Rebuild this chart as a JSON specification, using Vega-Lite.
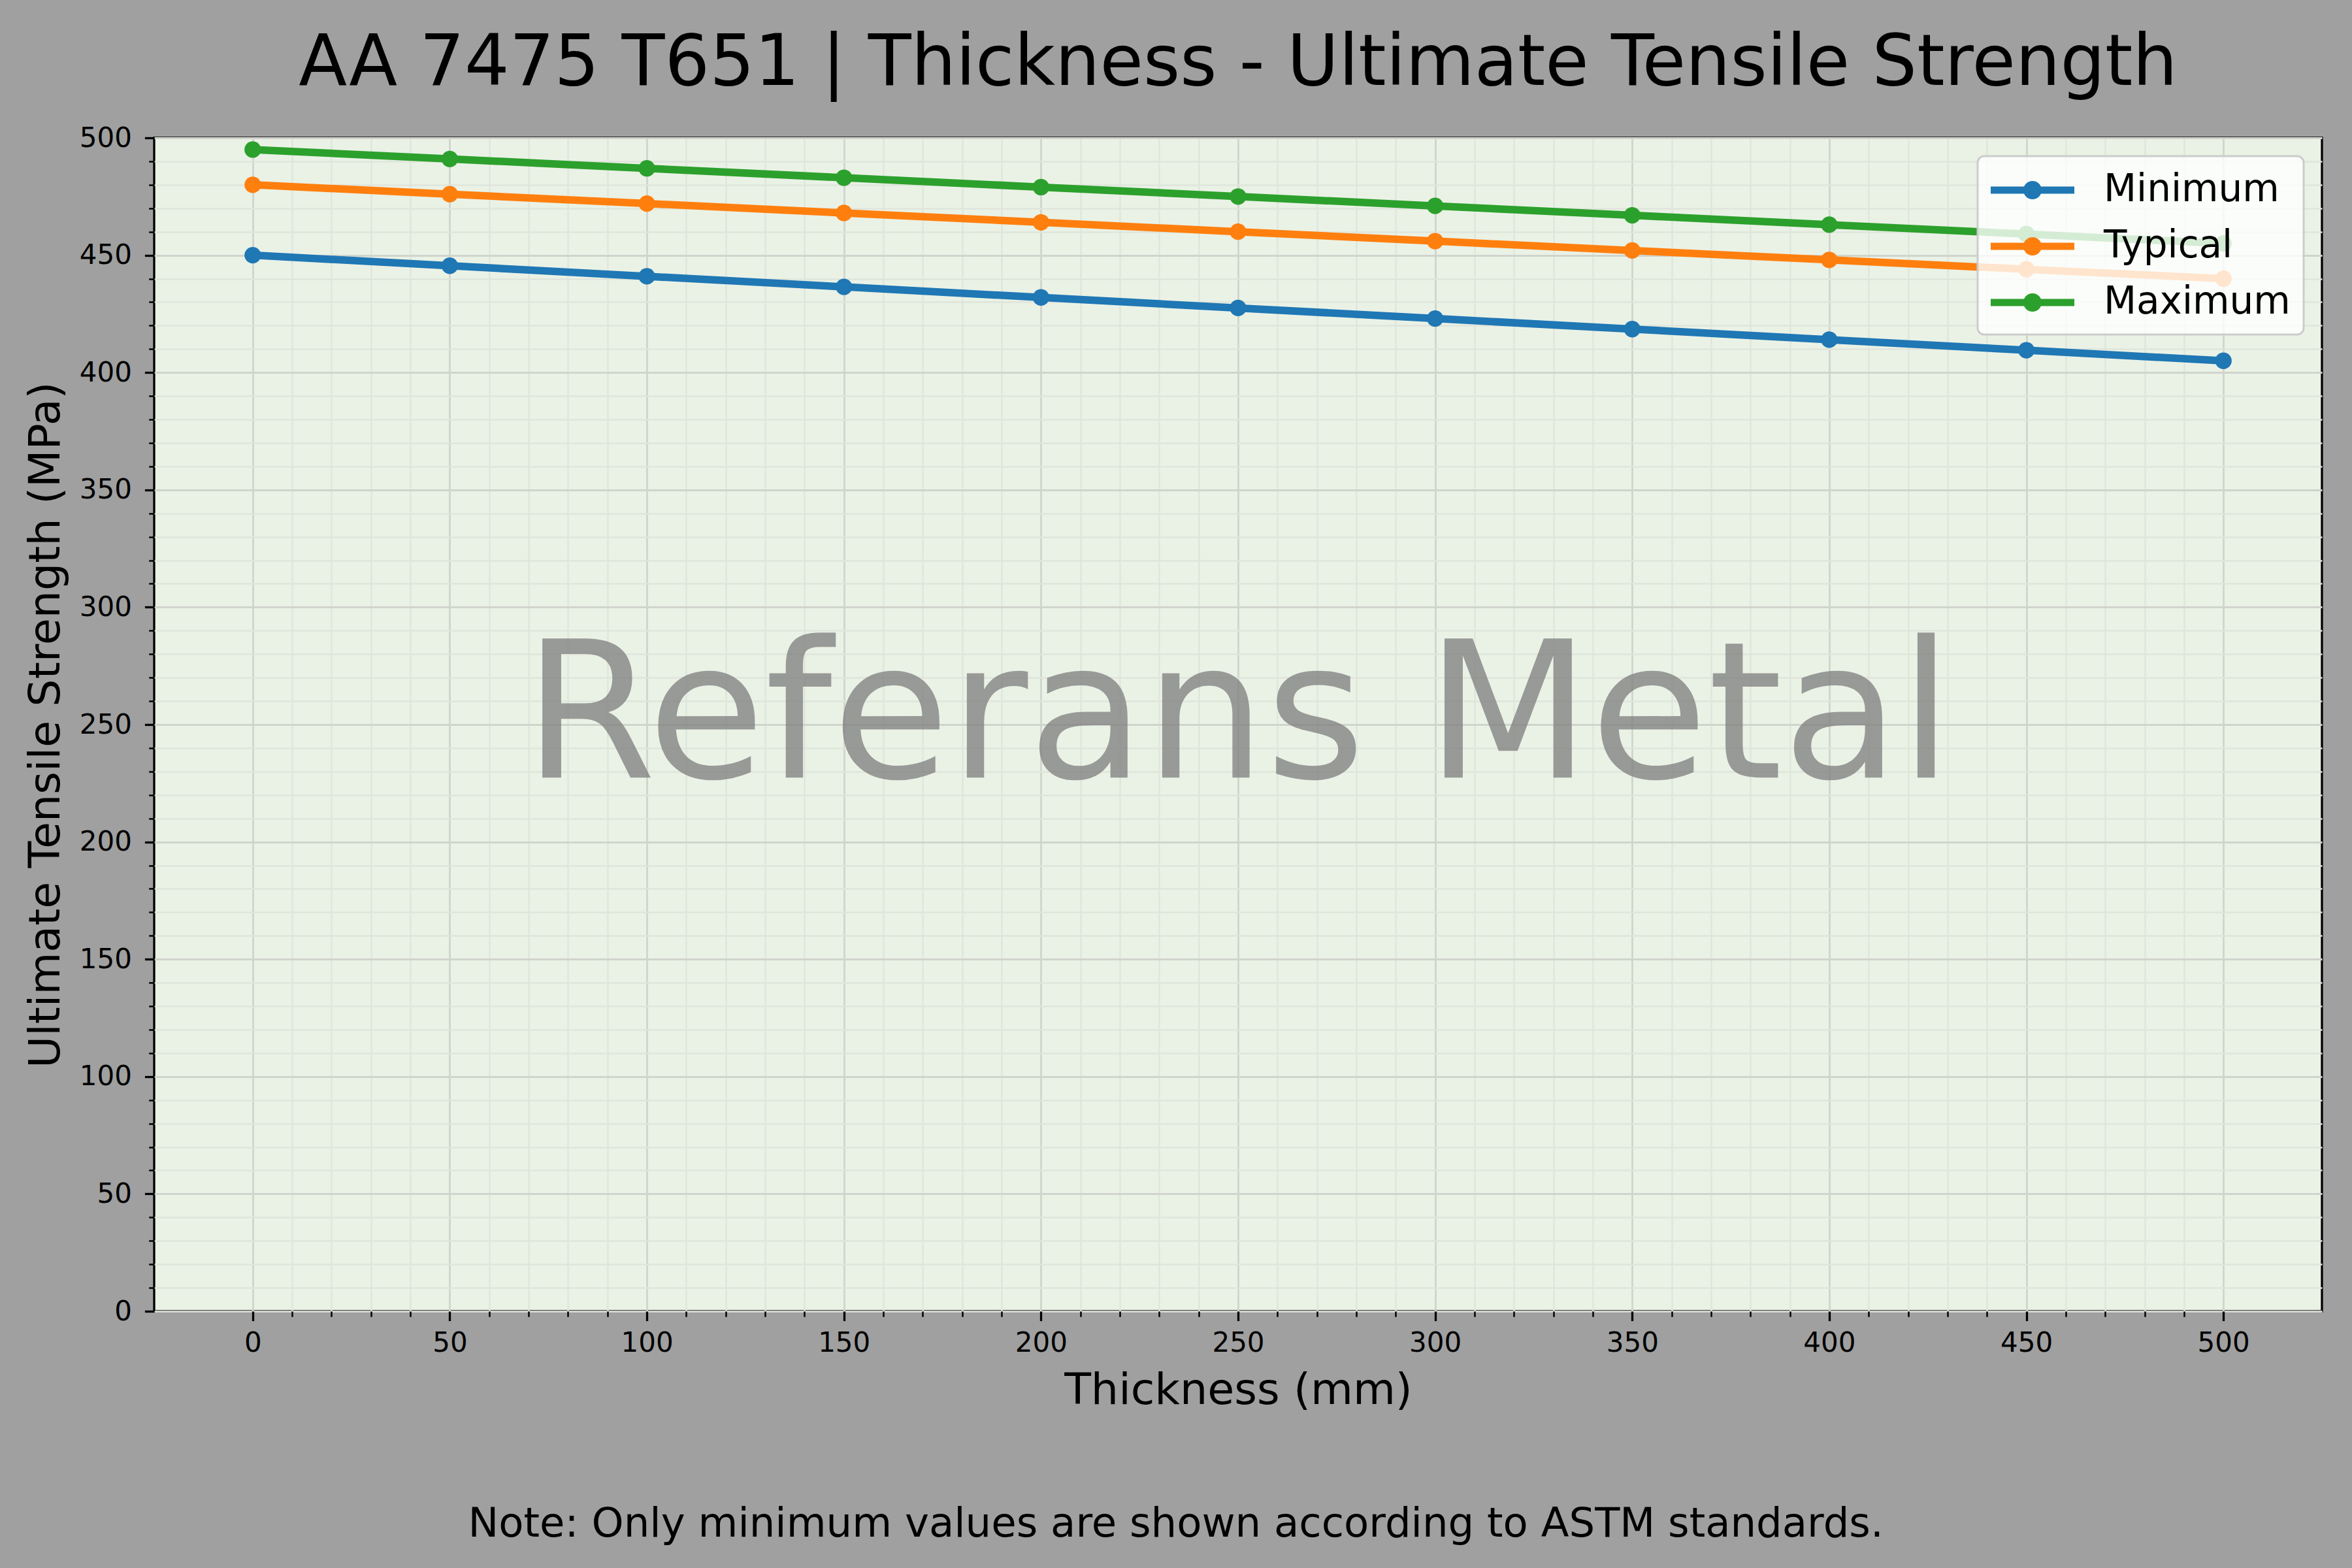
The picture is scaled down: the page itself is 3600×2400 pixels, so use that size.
{
  "$schema": "https://vega.github.io/schema/vega-lite/v6.json",
  "width": 3318,
  "height": 1796,
  "autosize": {"type": "none"},
  "padding": {"left": 236, "top": 211, "right": 46, "bottom": 393},
  "background": "#a0a0a0",
  "config": {
    "font": "DejaVu Sans",
    "view": {"fill": "#eaf2e6", "stroke": "#000000", "strokeWidth": 3.3}
  },
  "title": {
    "text": "AA 7475 T651 | Thickness - Ultimate Tensile Strength",
    "fontSize": 108,
    "fontWeight": "normal",
    "font": "DejaVu Sans",
    "color": "#000000",
    "anchor": "middle",
    "offset": 37
  },
  "datasets": {
    "uts": [
      {"thickness": 0, "uts": 450, "grade": "Minimum"},
      {"thickness": 50, "uts": 445.5, "grade": "Minimum"},
      {"thickness": 100, "uts": 441, "grade": "Minimum"},
      {"thickness": 150, "uts": 436.5, "grade": "Minimum"},
      {"thickness": 200, "uts": 432, "grade": "Minimum"},
      {"thickness": 250, "uts": 427.5, "grade": "Minimum"},
      {"thickness": 300, "uts": 423, "grade": "Minimum"},
      {"thickness": 350, "uts": 418.5, "grade": "Minimum"},
      {"thickness": 400, "uts": 414, "grade": "Minimum"},
      {"thickness": 450, "uts": 409.5, "grade": "Minimum"},
      {"thickness": 500, "uts": 405, "grade": "Minimum"},
      {"thickness": 0, "uts": 480, "grade": "Typical"},
      {"thickness": 50, "uts": 476, "grade": "Typical"},
      {"thickness": 100, "uts": 472, "grade": "Typical"},
      {"thickness": 150, "uts": 468, "grade": "Typical"},
      {"thickness": 200, "uts": 464, "grade": "Typical"},
      {"thickness": 250, "uts": 460, "grade": "Typical"},
      {"thickness": 300, "uts": 456, "grade": "Typical"},
      {"thickness": 350, "uts": 452, "grade": "Typical"},
      {"thickness": 400, "uts": 448, "grade": "Typical"},
      {"thickness": 450, "uts": 444, "grade": "Typical"},
      {"thickness": 500, "uts": 440, "grade": "Typical"},
      {"thickness": 0, "uts": 495, "grade": "Maximum"},
      {"thickness": 50, "uts": 491, "grade": "Maximum"},
      {"thickness": 100, "uts": 487, "grade": "Maximum"},
      {"thickness": 150, "uts": 483, "grade": "Maximum"},
      {"thickness": 200, "uts": 479, "grade": "Maximum"},
      {"thickness": 250, "uts": 475, "grade": "Maximum"},
      {"thickness": 300, "uts": 471, "grade": "Maximum"},
      {"thickness": 350, "uts": 467, "grade": "Maximum"},
      {"thickness": 400, "uts": 463, "grade": "Maximum"},
      {"thickness": 450, "uts": 459, "grade": "Maximum"},
      {"thickness": 500, "uts": 455, "grade": "Maximum"}
    ]
  },
  "resolve": {"axis": {"y": "independent"}},
  "layer": [
    {
      "data": {"name": "uts"},
      "mark": {"type": "point", "opacity": 0},
      "encoding": {
        "y": {
          "field": "uts",
          "type": "quantitative",
          "scale": {"domain": [0, 500], "nice": false, "zero": false},
          "axis": {
            "orient": "left",
            "title": null,
            "values": [10,20,30,40,60,70,80,90,110,120,130,140,160,170,180,190,210,220,230,240,260,270,280,290,310,320,330,340,360,370,380,390,410,420,430,440,460,470,480,490],
            "labels": false,
            "tickColor": "#000000",
            "tickSize": 8.3,
            "tickWidth": 2.5,
            "grid": true,
            "gridColor": "#dfe5db",
            "gridWidth": 2.4,
            "domain": false
          }
        }
      }
    },
    {
      "data": {"values": [{"wm": "Referans Metal"}]},
      "mark": {"type": "text", "fontSize": 292, "color": "#808080", "opacity": 0.77, "align": "center", "baseline": "alphabetic", "font": "DejaVu Sans"},
      "encoding": {
        "text": {"field": "wm"},
        "x": {"datum": 250, "type": "quantitative"},
        "y": {"datum": 227.4, "type": "quantitative", "axis": null}
      }
    },
    {
      "data": {"name": "uts"},
      "mark": {"type": "line", "strokeWidth": 11.5, "point": {"filled": true, "size": 640, "opacity": 1}},
      "encoding": {
        "x": {
          "field": "thickness",
          "type": "quantitative",
          "scale": {"domain": [-25, 525], "nice": false, "zero": false},
          "axis": {
            "title": "Thickness (mm)",
            "values": [0,10,20,30,40,50,60,70,80,90,100,110,120,130,140,150,160,170,180,190,200,210,220,230,240,250,260,270,280,290,300,310,320,330,340,350,360,370,380,390,400,410,420,430,440,450,460,470,480,490,500],
            "format": "d",
            "labelExpr": "datum.value % 50 === 0 ? datum.label : ''",
            "labelFontSize": {"condition": {"test": "datum.value % 50 === 0", "value": 42}, "value": 0},
            "labelColor": "#000000",
            "labelFont": "DejaVu Sans",
            "labelPadding": 14,
            "labelFlush": false,
            "labelOverlap": false,
            "tickColor": "#000000",
            "tickSize": {"condition": {"test": "datum.value % 50 === 0", "value": 14.6}, "value": 8.3},
            "tickWidth": {"condition": {"test": "datum.value % 50 === 0", "value": 3.3}, "value": 2.5},
            "grid": true,
            "gridColor": {"condition": {"test": "datum.value % 50 === 0", "value": "#d0d4cc"}, "value": "#dfe5db"},
            "gridWidth": {"condition": {"test": "datum.value % 50 === 0", "value": 2.8}, "value": 2.4},
            "domain": false,
            "titleFontSize": 66.7,
            "titleFontWeight": "normal",
            "titleColor": "#000000",
            "titleFont": "DejaVu Sans",
            "titlePadding": 19
          }
        },
        "y": {
          "field": "uts",
          "type": "quantitative",
          "scale": {"domain": [0, 500], "nice": false, "zero": false},
          "axis": {
            "orient": "left",
            "title": "Ultimate Tensile Strength (MPa)",
            "values": [0,50,100,150,200,250,300,350,400,450,500],
            "format": "d",
            "labelFontSize": 42,
            "labelColor": "#000000",
            "labelFont": "DejaVu Sans",
            "labelPadding": 20,
            "labelFlush": false,
            "labelOverlap": false,
            "tickColor": "#000000",
            "tickSize": 14.6,
            "tickWidth": 3.3,
            "grid": true,
            "gridColor": "#d0d4cc",
            "gridWidth": 2.8,
            "domain": false,
            "titleFontSize": 66.7,
            "titleFontWeight": "normal",
            "titleColor": "#000000",
            "titleFont": "DejaVu Sans",
            "titlePadding": 17
          }
        },
        "color": {
          "field": "grade",
          "type": "nominal",
          "scale": {"domain": ["Minimum", "Typical", "Maximum"], "range": ["#1f77b4", "#ff7f0e", "#2ca02c"]},
          "legend": {
            "title": null,
            "orient": "top-right",
            "offset": 28,
            "padding": 20,
            "fillColor": "rgba(255,255,255,0.8)",
            "strokeColor": "#cccccc",
            "cornerRadius": 10,
            "labelFontSize": 58,
            "labelColor": "#000000",
            "labelFont": "DejaVu Sans",
            "labelLimit": 1000,
            "symbolType": "M -1 -0.17 L 3 -0.17 L 3 0.17 L -1 0.17 Z M 1.44 0 A 0.44 0.44 0 1 1 0.56 0 A 0.44 0.44 0 1 1 1.44 0 Z",
            "symbolSize": 4096,
            "symbolStrokeWidth": 0,
            "labelOffset": 109,
            "rowPadding": 25,
            "encode": {
              "symbols": {"update": {"fill": {"scale": "color", "field": "value"}, "opacity": {"value": 1}, "strokeWidth": {"value": 0}}},
              "legend": {"update": {"strokeWidth": {"value": 3}}}
            }
          }
        }
      }
    },
    {
      "data": {"values": [{"note": "Note: Only minimum values are shown according to ASTM standards."}]},
      "mark": {"type": "text", "fontSize": 62.5, "color": "#000000", "align": "center", "baseline": "alphabetic", "font": "DejaVu Sans"},
      "encoding": {
        "text": {"field": "note"},
        "x": {"datum": 234.2, "type": "quantitative"},
        "y": {"datum": -96, "type": "quantitative", "axis": null}
      }
    }
  ]
}
